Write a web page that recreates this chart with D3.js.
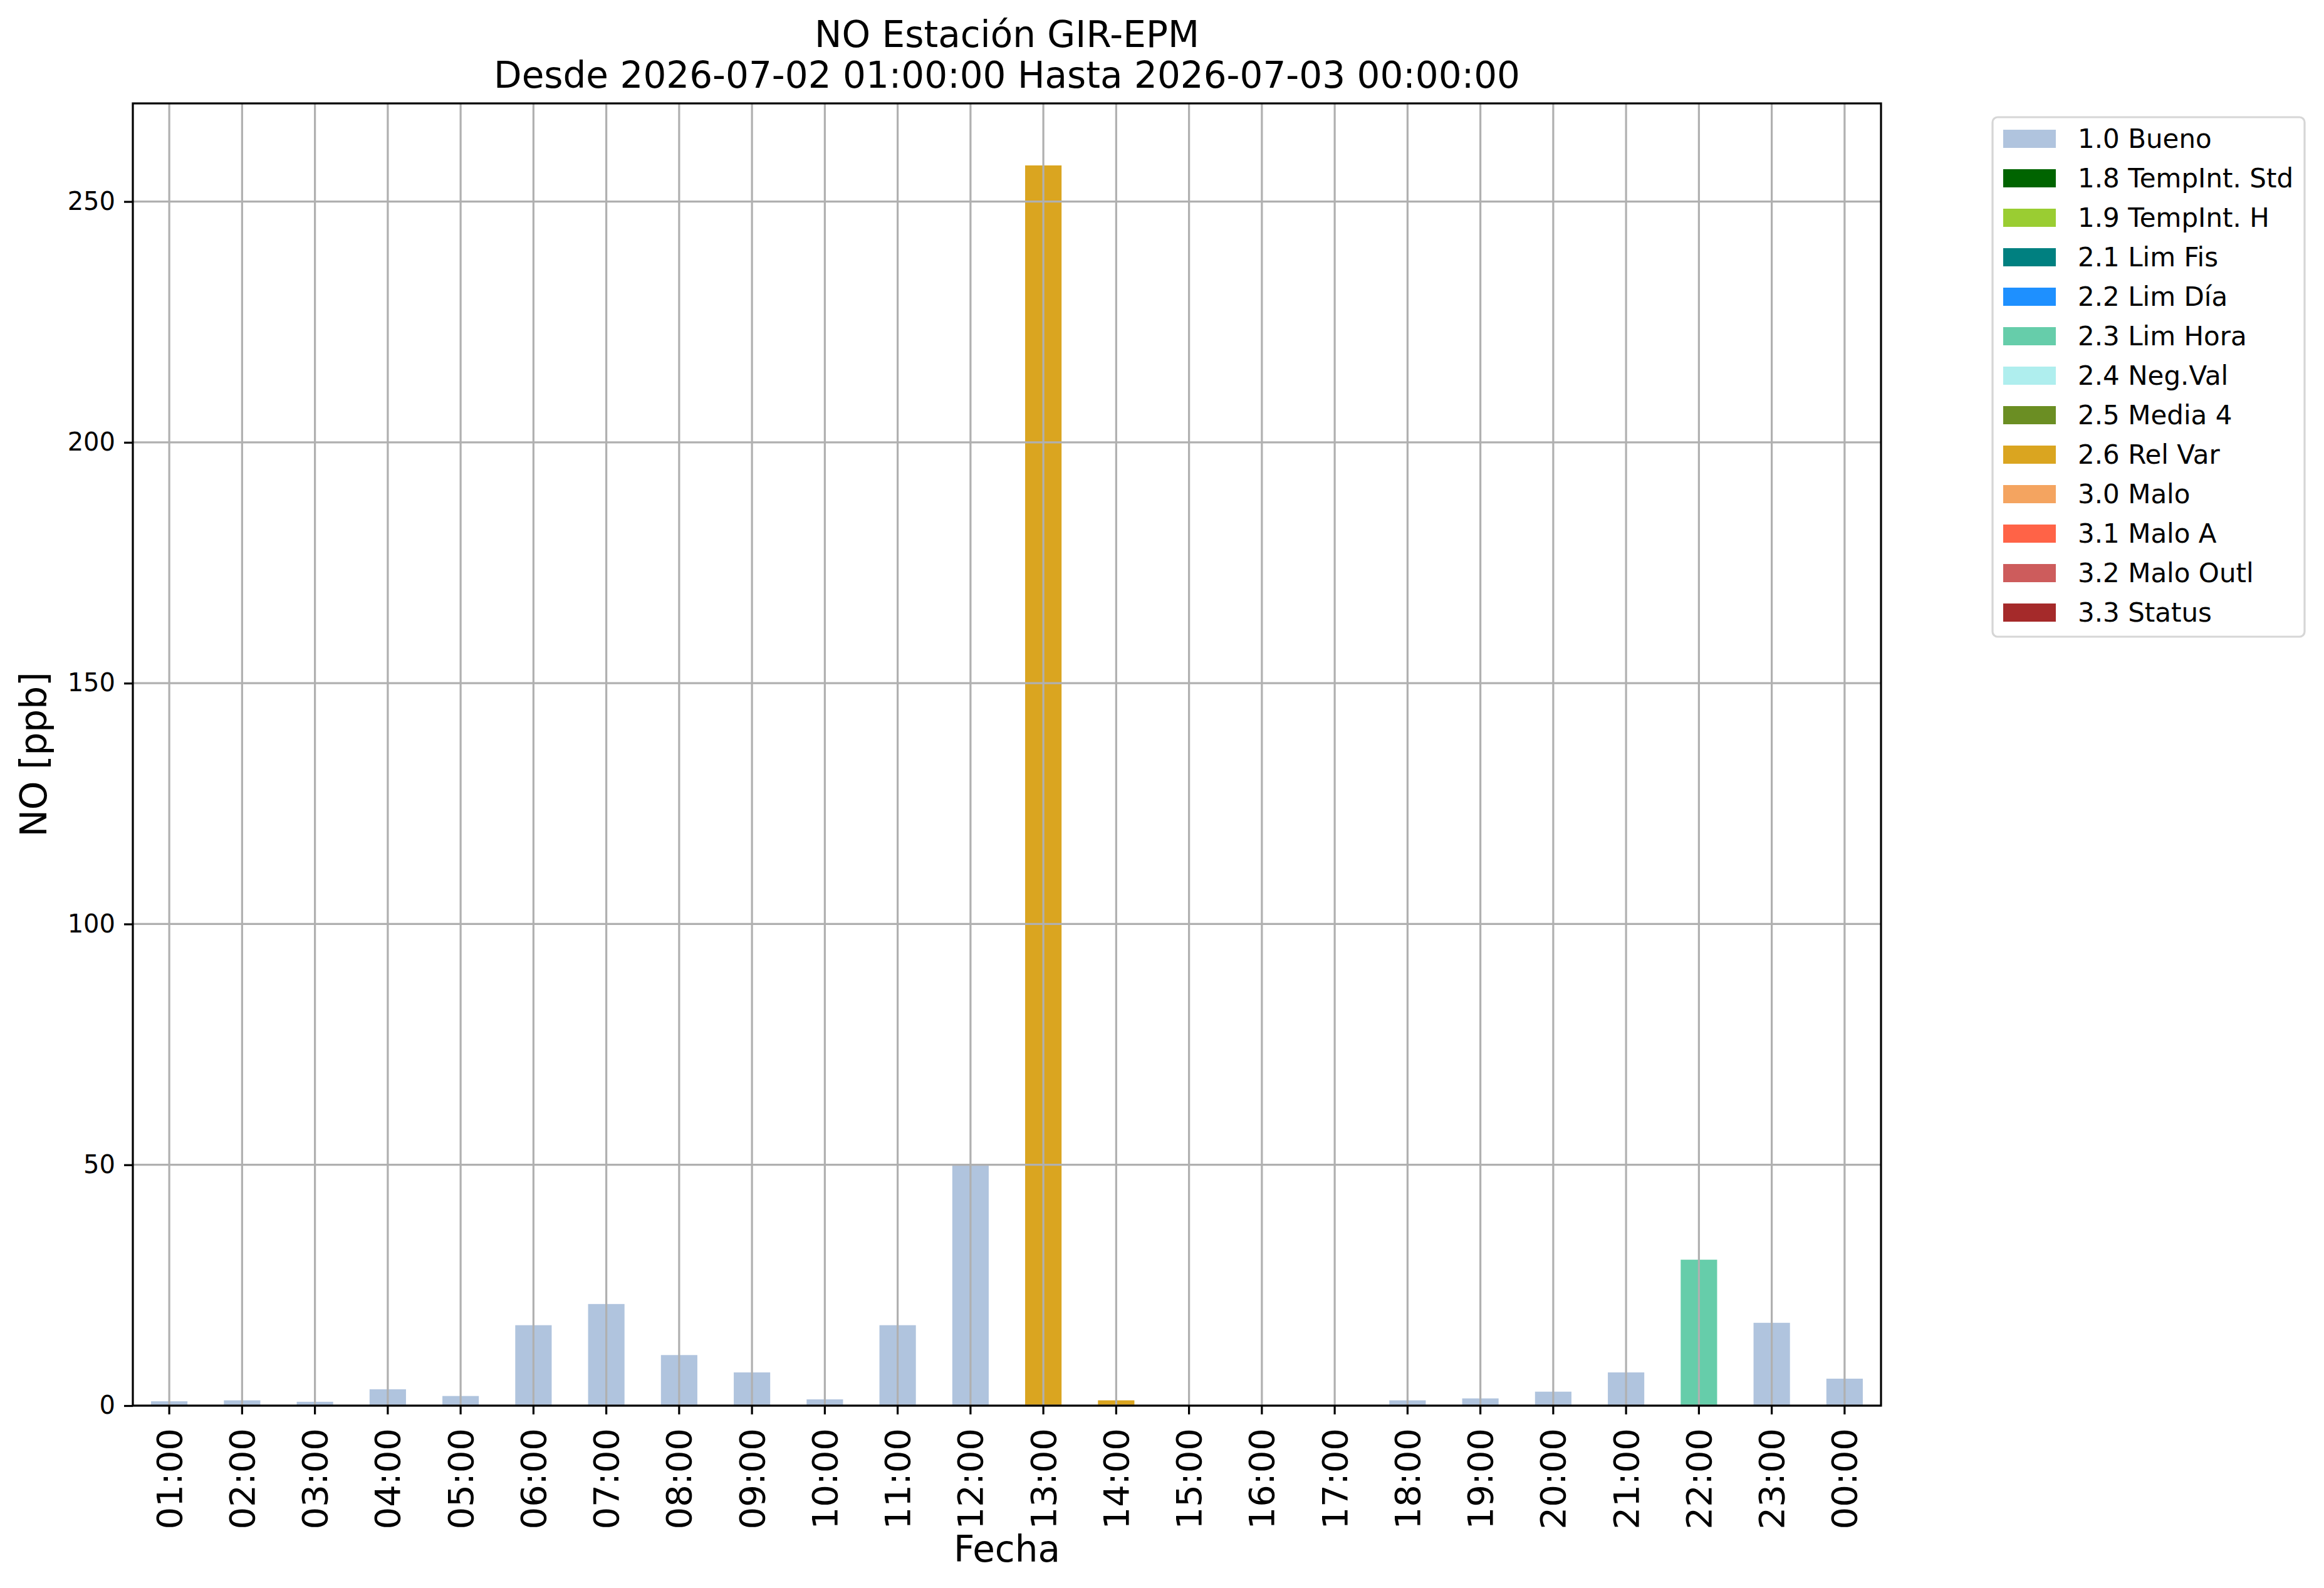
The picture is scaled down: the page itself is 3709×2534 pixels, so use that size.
<!DOCTYPE html>
<html>
<head>
<meta charset="utf-8">
<script src="https://cdn.jsdelivr.net/npm/d3@7"></script>
<style>
  body { margin: 0; background: #fff; }
  text { font-family: "DejaVu Sans", sans-serif; fill: #000; }
</style>
</head>
<body>
<div class="chart"></div>
<script>
// hourly NO values, one flag per hour
const hours = ['01:00','02:00','03:00','04:00','05:00','06:00','07:00','08:00','09:00','10:00','11:00','12:00',
               '13:00','14:00','15:00','16:00','17:00','18:00','19:00','20:00','21:00','22:00','23:00','00:00'];
const values = [0.9, 1.1, 0.8, 3.4, 2.0, 16.7, 21.1, 10.5, 6.9, 1.3, 16.7, 50.0,
                257.5, 1.1, null, null, null, 1.1, 1.5, 2.9, 6.9, 30.3, 17.2, 5.6];
const flags = ['1.0','1.0','1.0','1.0','1.0','1.0','1.0','1.0','1.0','1.0','1.0','1.0',
               '2.6','2.6','1.0','1.0','1.0','1.0','1.0','1.0','1.0','2.3','1.0','1.0'];

const flagCodes = ['1.0','1.8','1.9','2.1','2.2','2.3','2.4','2.5','2.6','3.0','3.1','3.2','3.3'];
const flagLabels = ['1.0 Bueno','1.8 TempInt. Std','1.9 TempInt. H','2.1 Lim Fis','2.2 Lim Día','2.3 Lim Hora',
                    '2.4 Neg.Val','2.5 Media 4','2.6 Rel Var','3.0 Malo','3.1 Malo A','3.2 Malo Outl','3.3 Status'];
const flagColors = ['#B0C4DE','#006400','#9ACD32','#008080','#1E90FF','#66CDAA',
                    '#AFEEEE','#6B8E23','#DAA520','#F4A460','#FF6347','#CD5C5C','#A52A2A'];

const yTicks = [0, 50, 100, 150, 200, 250];

const width = 3709;
const height = 2534;
const plotLeft = 212, plotRight = 3002, plotTop = 165, plotBottom = 2243;

const svg = d3.select('.chart')
  .append('svg')
  .attr('width', width)
  .attr('height', height);

const x = d3.scaleBand()
  .domain(hours)
  .range([plotLeft, plotRight])
  .paddingInner(0.5)
  .paddingOuter(0.25);

const yMax = d3.max(values) * 1.05;
const y = d3.scaleLinear()
  .domain([0, yMax])
  .range([plotBottom, plotTop]);

const color = d3.scaleOrdinal().domain(flagCodes).range(flagColors);

// stack table: one column per flag, value only where that flag applies
const table = hours.map((h, i) => {
  const row = { hour: h };
  flagCodes.forEach(c => row[c] = (flags[i] === c && values[i] != null) ? values[i] : 0);
  return row;
});
const series = d3.stack().keys(flagCodes)(table);

svg.append('g')
  .selectAll('g')
  .data(series)
  .enter()
  .append('g')
  .attr('fill', d => color(d.key))
  .selectAll('rect')
  .data(d => d.filter(p => p[1] - p[0] > 0))
  .enter()
  .append('rect')
  .attr('x', d => x(d.data.hour))
  .attr('width', x.bandwidth())
  .attr('y', d => y(d[1]))
  .attr('height', d => y(d[0]) - y(d[1]));

// grid above bars (matplotlib default)
const grid = svg.append('g').attr('stroke', '#b0b0b0').attr('stroke-width', 3.2);
grid.selectAll('line.v')
  .data(hours)
  .enter()
  .append('line')
  .attr('class', 'v')
  .attr('x1', d => x(d) + x.bandwidth() / 2)
  .attr('x2', d => x(d) + x.bandwidth() / 2)
  .attr('y1', plotTop)
  .attr('y2', plotBottom);
grid.selectAll('line.h')
  .data(yTicks)
  .enter()
  .append('line')
  .attr('class', 'h')
  .attr('x1', plotLeft)
  .attr('x2', plotRight)
  .attr('y1', d => y(d))
  .attr('y2', d => y(d));

// axes
const xAxis = d3.axisBottom(x).tickSize(14).tickPadding(14);
const gx = svg.append('g')
  .attr('transform', `translate(0,${plotBottom})`)
  .call(xAxis);
gx.select('.domain').remove();
gx.selectAll('line').attr('stroke', '#000').attr('stroke-width', 3.2);
gx.selectAll('text')
  .attr('font-size', '56px')
  .attr('transform', 'rotate(-90)')
  .attr('text-anchor', 'end')
  .attr('x', -36)
  .attr('y', 0)
  .attr('dy', '0.35em');

const yAxis = d3.axisLeft(y).tickValues(yTicks).tickSize(14).tickPadding(14);
const gy = svg.append('g')
  .attr('transform', `translate(${plotLeft},0)`)
  .call(yAxis);
gy.select('.domain').remove();
gy.selectAll('line').attr('stroke', '#000').attr('stroke-width', 3.2);
gy.selectAll('text').attr('font-size', '40px');
svg.selectAll('.tick text').attr('font-family', '"DejaVu Sans", sans-serif').attr('fill', '#000');

// frame
svg.append('rect')
  .attr('x', plotLeft)
  .attr('y', plotTop)
  .attr('width', plotRight - plotLeft)
  .attr('height', plotBottom - plotTop)
  .attr('fill', 'none')
  .attr('stroke', '#000')
  .attr('stroke-width', 3.2);

// titles and labels
const cx = (plotLeft + plotRight) / 2;
svg.append('text')
  .attr('x', cx).attr('y', 75)
  .attr('text-anchor', 'middle')
  .attr('font-size', '58px')
  .text('NO Estación GIR-EPM');
svg.append('text')
  .attr('x', cx).attr('y', 140)
  .attr('text-anchor', 'middle')
  .attr('font-size', '58px')
  .text('Desde 2026-07-02 01:00:00 Hasta 2026-07-03 00:00:00');
svg.append('text')
  .attr('x', cx).attr('y', 2492)
  .attr('text-anchor', 'middle')
  .attr('font-size', '58px')
  .text('Fecha');
svg.append('text')
  .attr('transform', `translate(74,${(plotTop + plotBottom) / 2}) rotate(-90)`)
  .attr('text-anchor', 'middle')
  .attr('font-size', '58px')
  .text('NO [ppb]');

// legend
const legend = svg.append('g');
legend.append('rect')
  .attr('x', 3180)
  .attr('y', 187)
  .attr('width', 498)
  .attr('height', 829)
  .attr('rx', 8)
  .attr('fill', '#fff')
  .attr('stroke', '#d6d6d6')
  .attr('stroke-width', 3.2);

const item = legend.selectAll('g.item')
  .data(flagCodes)
  .enter()
  .append('g')
  .attr('class', 'item')
  .attr('transform', (d, i) => `translate(3197,${207 + i * 63})`);
item.append('rect')
  .attr('width', 84)
  .attr('height', 29)
  .attr('fill', d => color(d));
item.append('text')
  .attr('x', 119)
  .attr('y', 29)
  .attr('font-size', '42px')
  .text((d, i) => flagLabels[i]);
</script>
</body>
</html>
